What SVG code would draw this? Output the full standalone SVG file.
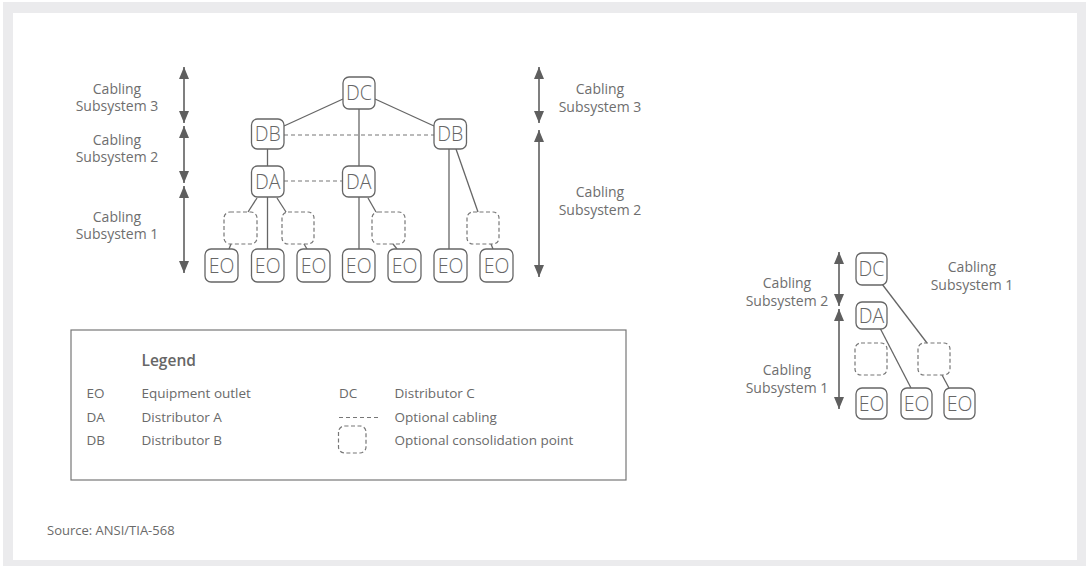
<svg xmlns="http://www.w3.org/2000/svg" width="1086" height="566" viewBox="0 0 1086 566">
  <style>
    .lbl { font-family: "Open Sans", "Liberation Sans", sans-serif; font-size: 14px; fill: #6e6e6e; text-anchor: middle; }
    .node rect { fill: #ffffff; stroke: #666666; stroke-width: 1.3; }
    .node text { font-family: "Open Sans", "Liberation Sans", sans-serif; font-size: 19.5px; font-weight: 300; fill: #666666; text-anchor: middle; }
    .cp { fill: none; stroke: #777777; stroke-width: 1.2; stroke-dasharray: 4 2.5; }
    .wire { stroke: #666666; stroke-width: 1.3; fill: none; }
    .opt { stroke: #777777; stroke-width: 1.2; stroke-dasharray: 4 3; fill: none; }
    .span { stroke: #5f5f5f; stroke-width: 1.6; marker-start: url(#head); marker-end: url(#head); }
    .leg { font-family: "Open Sans", "Liberation Sans", sans-serif; font-size: 13.5px; fill: #6a6a6a; }
  </style>
  <defs>
    <marker id="head" viewBox="0 0 12 10" refX="12" refY="5" markerWidth="12" markerHeight="10" markerUnits="userSpaceOnUse" orient="auto-start-reverse">
      <path d="M0,0 L12,5 L0,10 z" fill="#5f5f5f"/>
    </marker>
  </defs>

  <!-- page frame -->
  <rect x="3" y="2" width="1083" height="564" fill="#ebebed"/>
  <rect x="13" y="13" width="1064" height="547" fill="#ffffff"/>

  <!-- subsystem span arrows -->
  <g id="spans">
    <line class="span" x1="184" y1="67" x2="184" y2="123"/>
    <line class="span" x1="184" y1="126" x2="184" y2="183"/>
    <line class="span" x1="184" y1="186" x2="184" y2="273"/>
    <line class="span" x1="539" y1="67" x2="539" y2="123"/>
    <line class="span" x1="539" y1="130" x2="539" y2="277"/>
    <line class="span" x1="839" y1="252" x2="839" y2="306"/>
    <line class="span" x1="839" y1="309" x2="839" y2="409"/>
  </g>

  <!-- subsystem labels -->
  <g id="labels">
    <text class="lbl" x="117" y="94">Cabling</text>
    <text class="lbl" x="117" y="111">Subsystem 3</text>
    <text class="lbl" x="117" y="145">Cabling</text>
    <text class="lbl" x="117" y="162">Subsystem 2</text>
    <text class="lbl" x="117" y="222">Cabling</text>
    <text class="lbl" x="117" y="239">Subsystem 1</text>
    <text class="lbl" x="600" y="94">Cabling</text>
    <text class="lbl" x="600" y="112">Subsystem 3</text>
    <text class="lbl" x="600" y="197">Cabling</text>
    <text class="lbl" x="600" y="215">Subsystem 2</text>
    <text class="lbl" x="787" y="288">Cabling</text>
    <text class="lbl" x="787" y="306">Subsystem 2</text>
    <text class="lbl" x="787" y="375">Cabling</text>
    <text class="lbl" x="787" y="393">Subsystem 1</text>
    <text class="lbl" x="972" y="272">Cabling</text>
    <text class="lbl" x="972" y="290">Subsystem 1</text>
  </g>

  <!-- cabling -->
  <g id="connectors">
    <line class="wire" x1="343" y1="99" x2="284" y2="126"/>
    <line class="wire" x1="375" y1="99" x2="434" y2="126"/>
    <line class="wire" x1="359" y1="109" x2="359" y2="166"/>
    <line class="wire" x1="267.5" y1="149" x2="267.5" y2="166"/>
    <line class="opt" x1="284" y1="135" x2="434" y2="135"/>
    <line class="opt" x1="284" y1="181" x2="342" y2="181"/>
    <line class="wire" x1="267.5" y1="197" x2="267.5" y2="249"/>
    <line class="wire" x1="257" y1="198" x2="248" y2="212"/>
    <line class="wire" x1="231" y1="244" x2="229" y2="249"/>
    <line class="wire" x1="277" y1="198" x2="286" y2="212"/>
    <line class="wire" x1="304" y1="244" x2="307" y2="249"/>
    <line class="wire" x1="359" y1="197" x2="359" y2="249"/>
    <line class="wire" x1="368" y1="198" x2="376" y2="212"/>
    <line class="wire" x1="393" y1="244" x2="397" y2="249"/>
    <line class="wire" x1="449" y1="149" x2="449" y2="249"/>
    <line class="wire" x1="456" y1="149" x2="478" y2="212"/>
    <line class="wire" x1="491" y1="244" x2="493" y2="249"/>
    <line class="wire" x1="882" y1="284" x2="927" y2="343"/>
    <line class="wire" x1="942" y1="375" x2="949" y2="388"/>
    <line class="wire" x1="880" y1="328" x2="911" y2="388"/>
  </g>

  <!-- consolidation points -->
  <g id="consolidation">
    <rect class="cp" x="224" y="212" width="33" height="32" rx="6"/>
    <rect class="cp" x="282" y="212" width="32" height="32" rx="6"/>
    <rect class="cp" x="372" y="212" width="33" height="32" rx="6"/>
    <rect class="cp" x="467" y="212" width="32" height="32" rx="6"/>
    <rect class="cp" x="855" y="343" width="32" height="32" rx="6"/>
    <rect class="cp" x="918" y="343" width="32" height="32" rx="6"/>
  </g>

  <!-- distributors -->
  <g id="dc" class="node"><rect x="343" y="77" width="32" height="32" rx="6"/><text x="359" y="100">DC</text></g>
  <g id="db-left" class="node"><rect x="251.5" y="119" width="32.5" height="30" rx="6"/><text x="267.7" y="141">DB</text></g>
  <g id="db-right" class="node"><rect x="434" y="119" width="32.5" height="30" rx="6"/><text x="450.2" y="141">DB</text></g>
  <g id="da-left" class="node"><rect x="251.5" y="166" width="32.5" height="31" rx="6"/><text x="267.7" y="188.5">DA</text></g>
  <g id="da-mid" class="node"><rect x="342.5" y="166" width="32.5" height="31" rx="6"/><text x="358.7" y="188.5">DA</text></g>

  <!-- equipment outlets -->
  <g id="eo-1" class="node"><rect x="205" y="249" width="33" height="33" rx="6"/><text x="221.5" y="273">EO</text></g>
  <g id="eo-2" class="node"><rect x="251.5" y="249" width="32.5" height="33" rx="6"/><text x="267.7" y="273">EO</text></g>
  <g id="eo-3" class="node"><rect x="297" y="249" width="33" height="33" rx="6"/><text x="313.5" y="273">EO</text></g>
  <g id="eo-4" class="node"><rect x="342.5" y="249" width="32.5" height="33" rx="6"/><text x="358.7" y="273">EO</text></g>
  <g id="eo-5" class="node"><rect x="388" y="249" width="33" height="33" rx="6"/><text x="404.5" y="273">EO</text></g>
  <g id="eo-6" class="node"><rect x="434" y="249" width="33" height="33" rx="6"/><text x="450.5" y="273">EO</text></g>
  <g id="eo-7" class="node"><rect x="480" y="249" width="33" height="33" rx="6"/><text x="496.5" y="273">EO</text></g>

  <!-- small two-level example -->
  <g id="dc-small" class="node"><rect x="856" y="253" width="31" height="32" rx="6"/><text x="871.5" y="276">DC</text></g>
  <g id="da-small" class="node"><rect x="856" y="302" width="31" height="27" rx="6"/><text x="871.5" y="322.5">DA</text></g>
  <g id="eo-s1" class="node"><rect x="856" y="388" width="31" height="31" rx="6"/><text x="871.5" y="411">EO</text></g>
  <g id="eo-s2" class="node"><rect x="901" y="388" width="31" height="31" rx="6"/><text x="916.5" y="411">EO</text></g>
  <g id="eo-s3" class="node"><rect x="944" y="388" width="31" height="31" rx="6"/><text x="959.5" y="411">EO</text></g>

  <!-- legend -->
  <g id="legend">
    <rect x="71" y="330" width="555" height="150" fill="none" stroke="#777777" stroke-width="1.2"/>
    <text x="141.5" y="366" font-family="'Open Sans', 'Liberation Sans', sans-serif" font-size="15.5" font-weight="600" fill="#666666">Legend</text>
    <text class="leg" x="86.5" y="398">EO</text>
    <text class="leg" x="141.5" y="398">Equipment outlet</text>
    <text class="leg" x="86.5" y="421.5">DA</text>
    <text class="leg" x="141.5" y="421.5">Distributor A</text>
    <text class="leg" x="86.5" y="445">DB</text>
    <text class="leg" x="141.5" y="445">Distributor B</text>
    <text class="leg" x="339" y="398">DC</text>
    <text class="leg" x="394.5" y="398">Distributor C</text>
    <line class="opt" x1="339" y1="417.5" x2="380" y2="417.5" stroke-dasharray="3.5 2"/>
    <text class="leg" x="394.5" y="421.5">Optional cabling</text>
    <rect class="cp" x="338.5" y="426" width="27.5" height="27" rx="6" stroke-dasharray="3 2"/>
    <text class="leg" x="394.5" y="445">Optional consolidation point</text>
  </g>

  <text x="47" y="535" font-family="'Open Sans', 'Liberation Sans', sans-serif" font-size="13" fill="#6a6a6a">Source: ANSI/TIA-568</text>
</svg>
